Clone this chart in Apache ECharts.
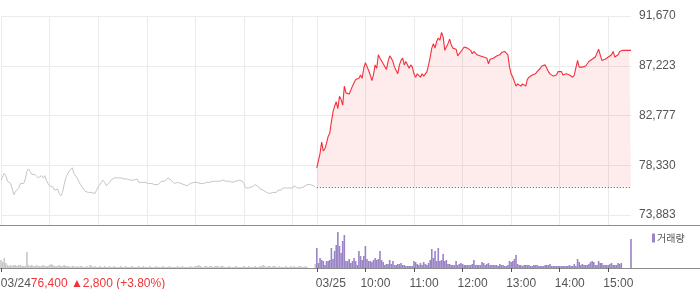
<!DOCTYPE html>
<html>
<head>
<meta charset="utf-8">
<script src="https://cdn.jsdelivr.net/npm/echarts@6.0.0/dist/echarts.min.js"></script>
<style>html,body{margin:0;padding:0;background:#fff}#c{width:700px;height:289px}</style>
</head>
<body>
<div id="c"></div>
<script>
// ---------- data ----------
const dayLabels = ['03/24', '03/25'];
const hourLabels = ['10:00', '11:00', '12:00', '13:00', '14:00', '15:00'];
const yTickLabels = ['73,883', '78,330', '82,777', '87,223', '91,670'];
const yTickValues = [73883, 78330, 82777, 87223, 91670];
const prevClose = 76400;
const changeText = '76,400 ▲2,800 (+3.80%)';
const volumeName = '거래량';

// 2-minute samples, 09:00 .. 15:28
const day1Prices = [
77000,77100,77600,77400,76900,76800,76700,76200,75700,76000,
76000,76300,76700,76700,76700,77100,77800,78000,77800,77500,
77600,77500,77600,77200,77200,77400,77200,77400,77000,76700,
76500,76500,76400,76100,76100,76200,75800,75600,75900,76600,
77200,77500,77800,77900,78100,77600,77600,77200,76900,76600,
76400,76200,76000,75900,75900,75900,75900,75900,75800,76100,
76400,76600,76800,77000,76800,76500,76500,76800,77000,77100,
77200,77300,77200,77300,77200,77200,77100,77200,77100,77100,
77000,77000,77000,77000,77100,76800,76700,76800,76700,76800,
76700,76700,76700,76700,76700,76600,76700,76600,76700,76900,
76800,76900,77000,77200,77300,77000,76900,76700,76800,76800,
76700,76700,76700,76600,76600,76500,76600,76700,76800,76800,
76800,76800,76700,76700,76600,76700,76700,76800,76800,76800,
76800,76900,76900,76900,76900,76900,76900,77000,76900,76900,
77000,76900,76900,76800,76800,76900,77000,77000,77100,76900,
76700,76300,76300,76300,76300,76400,76400,76600,76600,76400,
76200,76200,76100,76000,75900,75900,75800,75900,75900,76000,
75900,76100,76200,76100,76300,76200,76300,76300,76300,76400,
76300,76500,76500,76300,76200,76300,76300,76400,76500,76600,
76600,76600,76600,76500,76400
];
const day2Prices = [
78100,78000,79400,80400,79600,79800,80300,80900,81200,82200,
83100,83600,84000,83400,84500,84200,83700,85400,84800,84800,
84700,84600,85400,85700,86000,86100,86100,86400,86100,87000,
87500,87400,86800,86400,85900,86400,87300,87000,88200,87900,
88000,87400,87300,86900,87600,88100,87900,87600,87100,86800,
86500,87300,87700,87900,87300,87600,87500,87000,87300,87100,
86500,86200,86500,86400,86200,86500,86300,86500,86700,87300,
88000,88800,89200,88800,89400,89700,89500,90200,89800,88600,
88900,89200,89600,89100,88800,88900,88700,88100,88100,88500,
88500,88900,89000,88800,88900,88600,88300,88500,88500,88200,
88300,88100,88200,88000,88100,87900,87400,87800,87900,87900,
88000,88100,88200,88200,88400,88300,88500,88500,88200,87100,
86500,86200,85800,85400,85600,85700,85400,85600,85500,85400,
86000,86200,86100,86400,86300,86500,86700,86800,87000,87200,
87100,87300,87000,86700,86500,86500,86300,86200,86400,86700,
86700,86700,86400,86500,86500,86500,86400,86300,86200,86400,
86500,87700,87100,87000,87100,87100,87200,87300,87600,87500,
87800,87900,88000,88000,88700,88200,87700,87700,87800,87900,
88000,88100,88200,88500,88000,88000,88200,88500,88600,88600,
88600,88600,88600,88600,88600
];
// volume, thousand shares per 2-minute slot
const day1Volume = [
80,60,100,50,30,20,30,20,30,30,
20,30,30,20,20,20,160,30,20,30,
20,20,30,20,20,20,30,20,20,20,
30,40,30,20,20,20,30,20,20,30,
20,20,20,10,20,20,10,20,10,20,
20,10,10,20,10,30,20,10,20,10,
10,20,10,10,20,10,10,20,10,10,
20,10,10,10,20,10,10,20,10,10,
10,20,10,10,10,20,10,10,20,10,
10,10,20,10,10,10,20,10,10,10,
20,10,10,10,20,10,10,10,10,20,
10,10,20,10,10,10,10,20,10,10,
20,20,30,20,10,10,20,20,10,20,
20,10,20,20,20,10,20,20,10,10,
10,20,10,10,10,20,10,10,10,10,
20,10,10,20,10,10,10,20,10,10,
20,20,30,20,10,20,20,10,20,20,
10,10,20,10,10,10,20,10,10,20,
10,20,10,10,20,20,10,10,20,10,
0,0,0,0,40
];
const day2Volume = [
200,50,100,80,70,30,70,70,80,200,
90,170,230,360,220,150,270,330,70,70,
90,50,70,100,70,30,170,120,80,120,
220,90,70,70,60,80,100,80,90,170,
80,60,30,40,40,80,40,70,30,30,
40,40,50,30,30,20,20,20,20,20,
70,60,40,30,50,30,60,40,30,50,
80,190,100,170,70,200,70,80,140,70,
80,40,40,30,30,30,70,30,40,50,
40,30,30,30,30,30,40,80,30,30,
30,30,60,50,30,40,50,30,30,30,
30,30,20,40,30,30,20,20,30,70,
60,70,90,130,40,30,30,20,30,30,
30,30,20,20,30,30,30,20,20,20,
20,30,30,30,40,20,20,20,20,20,
20,20,20,20,20,20,30,20,20,40,
20,90,60,30,40,30,30,30,40,60,
70,60,30,30,70,50,50,30,30,30,
30,40,50,30,30,30,50,40,50,0,
0,0,0,0,290
];

// ---------- layout ----------
const SLOTS = day1Prices.length;           // slots per day
const SLOTS_PER_HOUR = 30;
const GRID_LEFT = 1, GRID_RIGHT = 69;
const PRICE_TOP = 16, PRICE_H = 209, LABEL_H = 199;
const VOL_TOP = 226, VOL_H = 42, VOL_MAX = 420;

const categories = [];
dayLabels.forEach(function (d) {
  for (let k = 0; k < SLOTS; k++) {
    const m = 9 * 60 + 2 * k;
    const hh = String(Math.floor(m / 60)).padStart(2, '0');
    const mm = String(m % 60).padStart(2, '0');
    categories.push(d + ' ' + hh + ':' + mm);
  }
});

const topTick = yTickValues[yTickValues.length - 1];
const priceAxisMin = topTick - (topTick - yTickValues[0]) * (PRICE_H / LABEL_H);

const pad = new Array(SLOTS).fill('-');
const day2PriceSeries = pad.concat(day2Prices);
const day2VolSeries = pad.concat(day2Volume);

function isGridSlot(i) {
  return i < SLOTS ? (i % SLOTS_PER_HOUR === 0) : ((i - SLOTS) % SLOTS_PER_HOUR === 0);
}
function isLabelSlot(i) {
  return i === 0 || (i >= SLOTS && (i - SLOTS) % SLOTS_PER_HOUR === 0);
}

const font = '"Liberation Sans", Arial, sans-serif';
const gridBase = { left: GRID_LEFT, right: GRID_RIGHT, containLabel: false, outerBoundsMode: 'none' };
const chart = echarts.init(document.getElementById('c'), null, { renderer: 'canvas' });
chart.setOption({
  animation: false,
  backgroundColor: '#fff',
  textStyle: { fontFamily: font },
  grid: [
    Object.assign({ top: PRICE_TOP, height: PRICE_H }, gridBase),
    Object.assign({ top: VOL_TOP, height: VOL_H }, gridBase),
    Object.assign({ top: PRICE_TOP, height: LABEL_H }, gridBase)
  ],
  legend: {
    data: [{ name: volumeName, icon: 'rect' }],
    left: 652, top: 233, padding: 0,
    itemWidth: 3, itemHeight: 9, selectedMode: false,
    textStyle: { fontFamily: '"Noto Sans CJK KR", sans-serif', fontSize: 10, color: '#555', padding: [0, 0, 0, -3] }
  },
  xAxis: [
    {
      type: 'category', gridIndex: 0, data: categories, boundaryGap: false,
      axisLine: { show: false }, axisTick: { show: false }, axisLabel: { show: false },
      splitLine: { show: true, interval: function (i) { return isGridSlot(i); }, lineStyle: { color: '#ebebeb', width: 1 } }
    },
    {
      type: 'category', gridIndex: 1, data: categories, boundaryGap: false,
      axisLine: { show: false },
      axisTick: { show: true, length: 4, interval: function (i) { return isLabelSlot(i); }, lineStyle: { color: '#555' } },
      splitLine: { show: false },
      axisLabel: {
        show: true, interval: function (i) { return isLabelSlot(i); },
        margin: 10, align: 'center', fontSize: 12, color: '#555',
        formatter: function (value) {
          const i = categories.indexOf(value);
          if (i === 0) return '{sp0| }{d|' + dayLabels[0] + '}{r|' + changeText + '}';
          if (i === SLOTS) return '{sp1| }{d|' + dayLabels[1] + '}';
          const h = (i - SLOTS) / SLOTS_PER_HOUR - 1;
          return '{sp2| }{d|' + hourLabels[h] + '}';
        },
        rich: {
          sp0: { width: 164, fontSize: 12 },
          sp1: { width: 28, fontSize: 12 },
          sp2: { width: 20, fontSize: 12 },
          d: { color: '#555', fontSize: 12, fontFamily: font },
          r: { color: '#ee3538', fontSize: 12, fontFamily: font }
        }
      }
    },
    { type: 'value', gridIndex: 2, min: 0, max: 1, show: false }
  ],
  yAxis: [
    { type: 'value', gridIndex: 0, min: priceAxisMin, max: topTick, show: false, splitLine: { show: false } },
    { type: 'value', gridIndex: 1, min: 0, max: VOL_MAX, show: false, splitLine: { show: false } },
    {
      type: 'value', gridIndex: 2, position: 'right', min: 0, max: yTickLabels.length - 1, interval: 1,
      axisLine: { show: false }, axisTick: { show: false },
      splitLine: { show: true, lineStyle: { color: '#ebebeb', width: 1 } },
      axisLabel: {
        margin: 8, fontSize: 12, color: '#555',
        formatter: function (v) { return Number.isInteger(v) ? yTickLabels[v] : ''; }
      }
    }
  ],
  series: [
    {
      name: dayLabels[0], type: 'line', xAxisIndex: 0, yAxisIndex: 0,
      data: day1Prices, showSymbol: false, symbol: 'none',
      lineStyle: { color: '#c6c6c6', width: 1 }, itemStyle: { color: '#c6c6c6' },
      emphasis: { disabled: true }, silent: true, z: 3
    },
    {
      name: dayLabels[1], type: 'line', xAxisIndex: 0, yAxisIndex: 0,
      data: day2PriceSeries, showSymbol: false, symbol: 'none',
      lineStyle: { color: '#f52f3c', width: 1.1 }, itemStyle: { color: '#f52f3c' },
      areaStyle: { color: 'rgba(240,40,60,0.13)', origin: prevClose },
      emphasis: { disabled: true }, silent: true, z: 3,
      markLine: {
        silent: true, symbol: ['none', 'none'], label: { show: false },
        lineStyle: { color: '#555', width: 1, type: [1, 2] },
        emphasis: { disabled: true },
        data: [[{ coord: [SLOTS, prevClose] }, { coord: [2 * SLOTS - 1, prevClose] }]]
      }
    },
    {
      name: '전일 거래량', type: 'bar', xAxisIndex: 1, yAxisIndex: 1,
      data: day1Volume, barCategoryGap: '0%', barGap: '-100%',
      itemStyle: { color: '#c8c8c8' }, emphasis: { disabled: true }, silent: true
    },
    {
      name: volumeName, type: 'bar', xAxisIndex: 1, yAxisIndex: 1,
      data: day2VolSeries, barCategoryGap: '0%', barGap: '-100%',
      itemStyle: { color: '#9a84c6' }, emphasis: { disabled: true }, silent: true
    }
  ],
  graphic: [
    { type: 'line', shape: { x1: 0, y1: 225.5, x2: 700, y2: 225.5 }, style: { stroke: '#8c8c8c', lineWidth: 1 }, silent: true },
    { type: 'line', shape: { x1: 0, y1: 268.5, x2: 700, y2: 268.5 }, style: { stroke: '#8c8c8c', lineWidth: 1 }, silent: true }
  ]
});
</script>
</body>
</html>
